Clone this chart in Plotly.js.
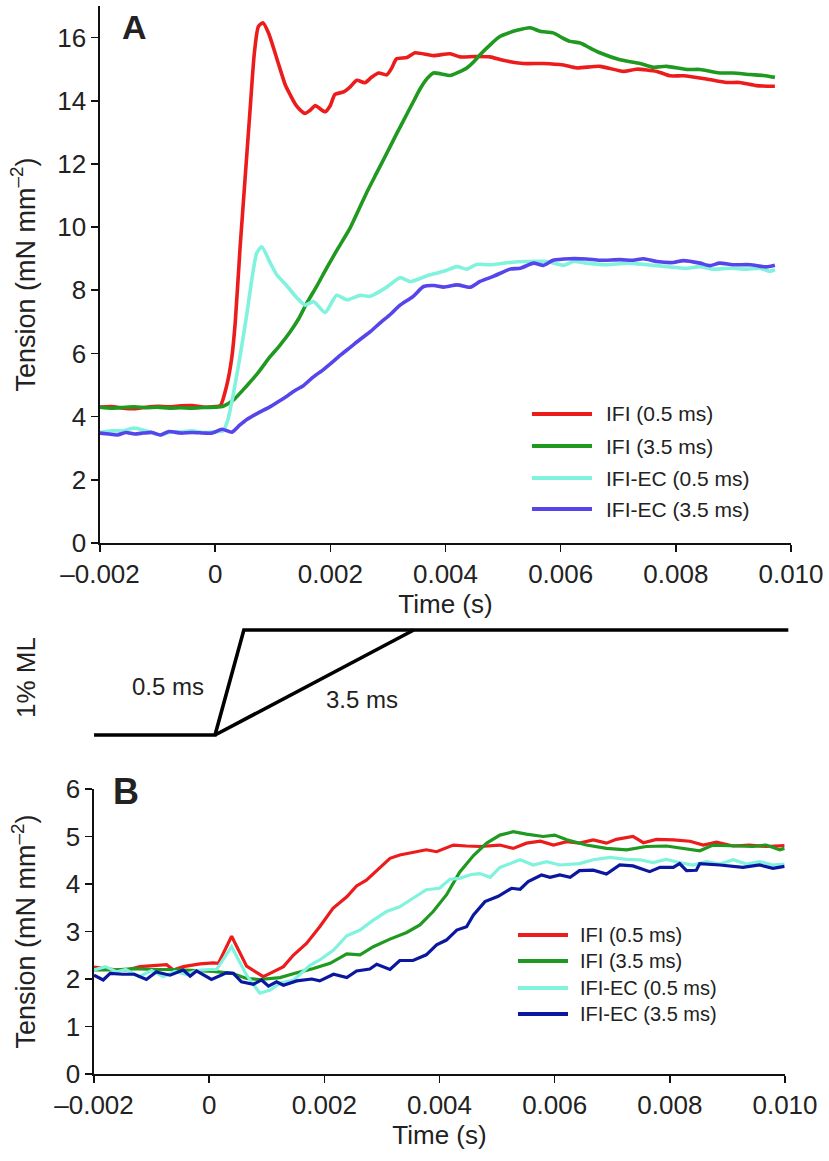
<!DOCTYPE html>
<html>
<head>
<meta charset="utf-8">
<script src="https://cdn.plot.ly/plotly-3.0.1.min.js"></script>
<style>html,body{margin:0;padding:0;background:#fff;}#chart{width:829px;height:1161px;}</style>
</head>
<body>
<div id="chart"></div>
<script>
// ---------- DATA (time in ms, tension in mN mm^-2) ----------
const seriesNames = ["IFI (0.5 ms)", "IFI (3.5 ms)", "IFI-EC (0.5 ms)", "IFI-EC (3.5 ms)"];

// Panel A
const aIFI05_t = [-2.0,-1.8,-1.6,-1.4,-1.2,-1.0,-0.8,-0.6,-0.4,-0.2,0.0,0.09,0.2,0.29,0.35,0.43,0.52,0.61,0.68,0.75,0.83,0.93,1.07,1.22,1.30,1.39,1.47,1.56,1.65,1.74,1.82,1.91,2.0,2.08,2.23,2.35,2.46,2.60,2.72,2.84,2.98,3.07,3.15,3.33,3.47,3.79,4.08,4.25,4.5,4.77,5.0,5.35,5.70,6.05,6.28,6.68,7.09,7.32,7.67,7.90,8.13,8.53,8.88,9.11,9.40,9.72];
const aIFI05_v = [4.30,4.32,4.27,4.25,4.30,4.33,4.31,4.34,4.35,4.30,4.32,4.35,4.98,5.89,7.02,9.28,11.55,13.81,15.5,16.35,16.47,16.13,15.34,14.49,14.2,13.9,13.72,13.6,13.7,13.85,13.75,13.65,13.85,14.2,14.28,14.45,14.65,14.57,14.75,14.88,14.82,15.05,15.33,15.37,15.52,15.43,15.49,15.39,15.40,15.39,15.28,15.18,15.18,15.13,15.04,15.09,14.93,15.0,14.93,14.79,14.79,14.69,14.58,14.58,14.48,14.46];

const aIFI35_t = [-2.0,-1.8,-1.6,-1.4,-1.2,-1.0,-0.8,-0.6,-0.4,-0.2,0.0,0.14,0.32,0.55,0.75,0.95,1.12,1.30,1.45,1.59,1.77,1.94,2.14,2.34,2.48,2.63,2.80,2.98,3.15,3.33,3.45,3.56,3.68,3.79,3.93,4.08,4.22,4.37,4.50,4.60,4.78,4.95,5.10,5.24,5.47,5.64,5.87,6.02,6.16,6.34,6.5,6.68,7.03,7.38,7.61,7.84,8.19,8.42,8.76,8.99,9.29,9.52,9.72];
const aIFI35_v = [4.30,4.27,4.29,4.31,4.28,4.30,4.27,4.28,4.27,4.29,4.30,4.33,4.53,4.98,5.4,5.89,6.25,6.68,7.1,7.59,8.15,8.72,9.35,9.96,10.5,11.09,11.7,12.34,12.95,13.58,14.0,14.38,14.7,14.88,14.85,14.80,14.9,15.04,15.25,15.46,15.78,16.04,16.15,16.23,16.31,16.2,16.15,16.0,15.88,15.83,15.68,15.52,15.30,15.18,15.06,15.09,14.99,14.99,14.88,14.88,14.83,14.80,14.74];

const aEC05_t = [-2.0,-1.8,-1.6,-1.42,-1.2,-0.95,-0.8,-0.6,-0.4,-0.2,0.0,0.14,0.22,0.32,0.43,0.55,0.64,0.72,0.81,0.95,1.07,1.24,1.42,1.56,1.71,1.91,2.11,2.29,2.52,2.69,2.98,3.21,3.39,3.68,3.97,4.20,4.37,4.54,4.77,5.12,5.41,5.76,6.05,6.22,6.45,6.80,7.15,7.50,7.84,8.19,8.42,8.65,8.94,9.23,9.46,9.63,9.72];
const aEC05_v = [3.50,3.55,3.55,3.64,3.55,3.42,3.50,3.52,3.55,3.50,3.52,3.55,3.9,4.76,5.89,7.25,8.38,9.17,9.38,8.89,8.49,8.15,7.76,7.53,7.64,7.30,7.84,7.70,7.84,7.81,8.10,8.40,8.28,8.46,8.6,8.75,8.67,8.82,8.81,8.88,8.91,8.91,8.79,8.91,8.86,8.81,8.86,8.81,8.75,8.70,8.75,8.67,8.70,8.67,8.70,8.60,8.65];

const aEC35_t = [-2.0,-1.85,-1.7,-1.55,-1.4,-1.25,-1.1,-0.95,-0.8,-0.6,-0.4,-0.2,-0.05,0.12,0.29,0.42,0.55,0.75,0.95,1.10,1.24,1.38,1.53,1.70,1.88,2.02,2.17,2.35,2.52,2.70,2.86,3.05,3.21,3.44,3.62,3.80,3.97,4.20,4.43,4.60,4.83,5.12,5.30,5.53,5.70,5.87,6.16,6.45,6.68,7.03,7.26,7.44,7.67,7.96,8.13,8.42,8.59,8.76,8.99,9.29,9.57,9.72];
const aEC35_v = [3.48,3.45,3.42,3.50,3.45,3.48,3.50,3.42,3.53,3.48,3.50,3.48,3.48,3.60,3.51,3.72,3.91,4.12,4.31,4.48,4.64,4.82,4.98,5.25,5.49,5.70,5.94,6.20,6.45,6.70,6.96,7.25,7.53,7.81,8.12,8.15,8.10,8.17,8.10,8.28,8.44,8.67,8.70,8.86,8.79,8.95,9.00,8.99,8.95,8.97,8.95,9.00,8.91,8.88,8.94,8.86,8.78,8.86,8.81,8.81,8.74,8.79];

// Panel B
const bIFI05_t = [-2.0,-1.66,-1.43,-1.20,-0.97,-0.74,-0.62,-0.45,-0.16,0.07,0.16,0.39,0.65,0.94,1.11,1.29,1.46,1.69,1.92,2.15,2.39,2.56,2.73,2.91,3.14,3.31,3.49,3.66,3.77,3.95,4.24,4.47,4.70,5.05,5.28,5.51,5.75,5.98,6.21,6.43,6.67,6.90,7.07,7.36,7.54,7.77,8.06,8.35,8.58,8.81,9.10,9.38,9.67,9.99];
const bIFI05_v = [2.25,2.20,2.19,2.26,2.28,2.30,2.19,2.26,2.32,2.34,2.33,2.90,2.27,2.05,2.15,2.26,2.50,2.75,3.10,3.49,3.73,3.96,4.08,4.29,4.54,4.61,4.65,4.68,4.72,4.68,4.82,4.80,4.79,4.82,4.75,4.86,4.90,4.82,4.89,4.86,4.93,4.86,4.94,5.00,4.87,4.94,4.93,4.90,4.82,4.88,4.80,4.82,4.79,4.81];

const bIFI35_t = [-2.0,-1.66,-1.3,-0.97,-0.62,-0.3,0.07,0.4,0.65,0.88,1.23,1.52,1.81,2.10,2.39,2.62,2.85,3.14,3.43,3.66,3.89,4.12,4.35,4.59,4.82,5.05,5.28,5.51,5.80,6.0,6.21,6.55,6.90,7.25,7.59,7.94,8.29,8.52,8.75,9.10,9.44,9.67,9.91,9.99];
const bIFI35_v = [2.19,2.19,2.22,2.20,2.20,2.18,2.16,2.12,2.01,1.99,2.03,2.13,2.22,2.33,2.53,2.51,2.68,2.84,2.98,3.14,3.42,3.77,4.25,4.60,4.86,5.03,5.10,5.05,5.00,5.03,4.93,4.82,4.75,4.72,4.79,4.80,4.75,4.70,4.82,4.80,4.79,4.82,4.72,4.75];

const bEC05_t = [-2.0,-1.8,-1.6,-1.45,-1.22,-1.0,-0.8,-0.6,-0.4,-0.2,0.0,0.13,0.39,0.65,0.88,1.06,1.23,1.47,1.75,1.92,2.16,2.39,2.62,2.85,3.08,3.31,3.54,3.77,4.0,4.18,4.35,4.55,4.70,4.88,5.05,5.40,5.63,5.86,6.09,6.43,6.67,6.96,7.25,7.48,7.71,7.94,8.17,8.40,8.64,8.87,9.10,9.33,9.56,9.79,9.99];
const bEC05_v = [2.19,2.26,2.15,2.20,2.05,2.18,2.05,2.16,2.10,2.18,2.20,2.20,2.68,2.08,1.70,1.77,1.91,1.98,2.29,2.40,2.61,2.91,3.03,3.24,3.42,3.52,3.70,3.88,3.91,4.10,4.12,4.20,4.22,4.14,4.35,4.51,4.40,4.47,4.40,4.43,4.51,4.56,4.52,4.51,4.45,4.52,4.45,4.40,4.47,4.42,4.51,4.42,4.47,4.40,4.42];

const bEC35_t = [-2.0,-1.84,-1.72,-1.5,-1.3,-1.09,-0.92,-0.68,-0.45,-0.33,-0.22,0.04,0.30,0.42,0.56,0.77,0.91,1.03,1.17,1.29,1.52,1.78,1.92,2.16,2.39,2.56,2.79,2.91,3.14,3.31,3.54,3.77,3.95,4.12,4.30,4.47,4.59,4.79,5.02,5.25,5.40,5.54,5.77,5.92,6.09,6.27,6.43,6.67,6.90,7.13,7.36,7.65,7.83,8.06,8.17,8.29,8.46,8.52,8.87,9.27,9.56,9.79,9.99];
const bEC35_v = [2.08,1.98,2.12,2.10,2.10,1.99,2.15,2.08,2.19,2.06,2.17,1.99,2.13,2.12,1.94,1.89,1.98,1.85,1.94,1.87,1.96,2.00,1.96,2.10,2.03,2.17,2.21,2.31,2.20,2.39,2.39,2.51,2.72,2.82,3.03,3.10,3.35,3.63,3.74,3.91,3.89,4.05,4.19,4.14,4.19,4.14,4.28,4.29,4.21,4.40,4.38,4.26,4.35,4.35,4.43,4.28,4.29,4.43,4.40,4.35,4.40,4.33,4.37];

// Length-step protocol (time in ms, fraction of 1% ML step)
const step05_t = [-2.1, 0, 0.5, 9.95];
const step05_v = [0, 0, 1, 1];
const step35_t = [0, 3.45];
const step35_v = [0, 1];

// Tick labels
const xTickVals = [-0.002, 0, 0.002, 0.004, 0.006, 0.008, 0.010];
const xTickText = ["\u20130.002", "0", "0.002", "0.004", "0.006", "0.008", "0.010"];
const yTickValsA = [0, 2, 4, 6, 8, 10, 12, 14, 16];
const yTickValsB = [0, 1, 2, 3, 4, 5, 6];

// ---------- STYLE ----------
const W = 829, H = 1161;
const px = x => x / W;
const py = y => 1 - y / H;
const FONT = "Liberation Sans, Arial, Helvetica, sans-serif";
const colorsA = ["#ec1c1c", "#1f991f", "#80f2dd", "#5545ea"];
const colorsB = ["#ec1c1c", "#1f991f", "#80f2dd", "#0b179f"];
const ms = a => a.map(v => v / 1000);

const traces = [];
const A = [[aIFI05_t, aIFI05_v], [aIFI35_t, aIFI35_v], [aEC05_t, aEC05_v], [aEC35_t, aEC35_v]];
const B = [[bIFI05_t, bIFI05_v], [bIFI35_t, bIFI35_v], [bEC05_t, bEC05_v], [bEC35_t, bEC35_v]];
A.forEach((s, i) => traces.push({x: ms(s[0]), y: s[1], name: seriesNames[i], type: "scatter", mode: "lines",
  line: {color: colorsA[i], width: 3.6, shape: "spline", smoothing: 0.6}, xaxis: "x", yaxis: "y", showlegend: false}));
B.forEach((s, i) => traces.push({x: ms(s[0]), y: s[1], name: seriesNames[i], type: "scatter", mode: "lines",
  line: {color: colorsB[i], width: 3.2}, xaxis: "x2", yaxis: "y2", showlegend: false}));
traces.push({x: ms(step05_t), y: step05_v, name: "0.5 ms step", type: "scatter", mode: "lines", line: {color: "#000", width: 3.6},
  xaxis: "x3", yaxis: "y3", showlegend: false});
traces.push({x: ms(step35_t), y: step35_v, name: "3.5 ms step", type: "scatter", mode: "lines", line: {color: "#000", width: 3.6},
  xaxis: "x3", yaxis: "y3", showlegend: false});

const axisCommon = {showline: true, linecolor: "#111", linewidth: 1.6, ticks: "outside", ticklen: 7, tickwidth: 1.6,
  tickcolor: "#111", showgrid: false, zeroline: false, tickfont: {family: FONT, size: 26, color: "#222"}, fixedrange: true};

const titleYA = {text: "Tension (mN mm<sup>\u20132</sup>)", font: {family: FONT, size: 27, color: "#222"}, standoff: 14};
const titleYB = {text: "Tension (mN mm<sup>\u20132</sup>)", font: {family: FONT, size: 27, color: "#222"}, standoff: 22};
const titleX = {text: "Time (s)", font: {family: FONT, size: 26, color: "#222"}, standoff: 6};

const shapes = [], annotations = [];
function legend(rows, x0, x1, xt, colors, fs) {
  rows.forEach((yy, i) => {
    shapes.push({type: "line", xref: "paper", yref: "paper", x0: px(x0), x1: px(x1), y0: py(yy), y1: py(yy),
      line: {color: colors[i], width: 4}});
    annotations.push({xref: "paper", yref: "paper", x: px(xt), y: py(yy), xanchor: "left", yanchor: "middle",
      text: seriesNames[i], showarrow: false, font: {family: FONT, size: fs, color: "#222"}});
  });
}
legend([414, 446, 478, 509], 532, 592, 604, colorsA, 21);
legend([935, 961, 988, 1014], 518, 568, 578, colorsB, 20);

annotations.push({xref: "paper", yref: "paper", x: px(134), y: py(27), text: "<b>A</b>", showarrow: false,
  xanchor: "center", yanchor: "middle", font: {family: FONT, size: 34, color: "#222"}});
annotations.push({xref: "paper", yref: "paper", x: px(126), y: py(791), text: "<b>B</b>", showarrow: false,
  xanchor: "center", yanchor: "middle", font: {family: FONT, size: 36, color: "#222"}});
annotations.push({xref: "paper", yref: "paper", x: px(168), y: py(686), text: "0.5 ms", showarrow: false,
  xanchor: "center", yanchor: "middle", font: {family: FONT, size: 24, color: "#222"}});
annotations.push({xref: "paper", yref: "paper", x: px(362), y: py(700), text: "3.5 ms", showarrow: false,
  xanchor: "center", yanchor: "middle", font: {family: FONT, size: 24, color: "#222"}});
annotations.push({xref: "paper", yref: "paper", x: px(26), y: py(678), text: "1% ML", showarrow: false, textangle: -90,
  xanchor: "center", yanchor: "middle", font: {family: FONT, size: 26, color: "#222"}});

const layout = {
  width: W, height: H, margin: {l: 0, r: 0, t: 0, b: 0}, paper_bgcolor: "#fff", plot_bgcolor: "rgba(0,0,0,0)",
  showlegend: false, font: {family: FONT},
  xaxis: Object.assign({}, axisCommon, {domain: [px(100), px(791)], range: [-0.002, 0.010], tickvals: xTickVals, ticktext: xTickText,
    title: titleX, anchor: "y"}),
  yaxis: Object.assign({}, axisCommon, {domain: [py(543), py(6)], range: [0, 17], tickvals: yTickValsA, title: titleYA, anchor: "x"}),
  xaxis2: Object.assign({}, axisCommon, {domain: [px(94), px(785)], range: [-0.002, 0.010], tickvals: xTickVals, ticktext: xTickText,
    title: titleX, anchor: "y2"}),
  yaxis2: Object.assign({}, axisCommon, {domain: [py(1074), py(789)], range: [0, 6], tickvals: yTickValsB, title: titleYB, anchor: "x2"}),
  xaxis3: {domain: [px(71), px(820)], range: [-0.0025, 0.0105], visible: false, fixedrange: true, anchor: "y3"},
  yaxis3: {domain: [py(745.5), py(619.5)], range: [-0.1, 1.1], visible: false, fixedrange: true, anchor: "x3"},
  shapes: shapes, annotations: annotations
};

Plotly.newPlot("chart", traces, layout, {staticPlot: true, displayModeBar: false});
</script>
</body>
</html>
